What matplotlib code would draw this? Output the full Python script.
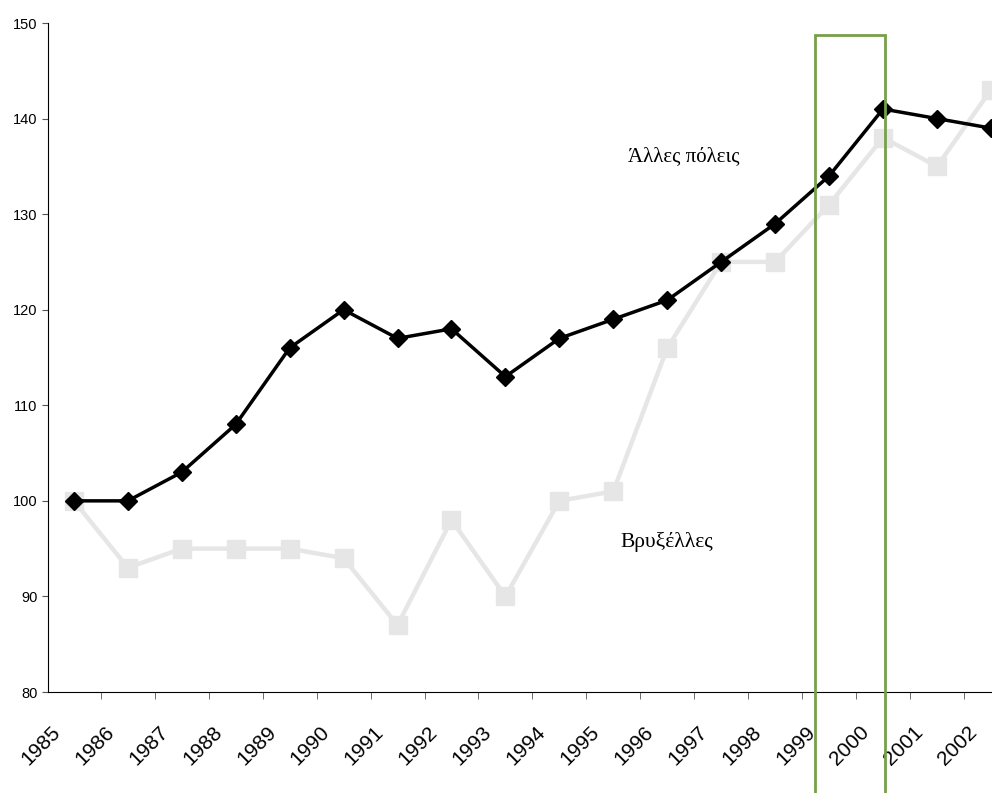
import numpy as np
import matplotlib.pyplot as plt
import matplotlib.transforms as mtransforms
from matplotlib.patches import Rectangle

years = [str(y) for y in range(1985, 2003)]
other_cities = [100, 100, 103, 108, 116, 120, 117, 118, 113, 117, 119, 121, 125, 129, 134, 141, 140, 139]
brussels = [100, 93, 95, 95, 95, 94, 87, 98, 90, 100, 101, 116, 125, 125, 131, 138, 135, 143]
label_other = "Άλλες πόλεις"
label_brussels = "Βρυξέλλες"

plt.rcParams["font.family"] = ["Liberation Sans", "DejaVu Sans"]

fig = plt.figure(figsize=(9.92, 7.93), dpi=100)
ax = fig.add_axes([48 / 992, 1 - 692 / 793, 1 - 48 / 992, (692 - 23) / 793])

x = np.arange(len(years))
ax.plot(x, brussels, color="#e6e6e6", lw=3.2, marker="s", ms=13.5, zorder=2, clip_on=False)
ax.plot(x, other_cities, color="black", lw=2.5, marker="D", ms=9.5, zorder=3, clip_on=False)

ax.set_xlim(-0.48, 17.02)
ax.set_ylim(80, 150)
ax.set_yticks(range(80, 151, 10))
ax.set_xticks(x)
ax.set_xticklabels(years, rotation=45, ha="right", va="top", fontsize=15)
ax.set_xticks(x[1:] - 0.5, minor=True)
ax.tick_params(axis="x", which="major", length=0, pad=22)
ax.tick_params(axis="x", which="minor", length=5, color="#555555")
ax.tick_params(axis="y", length=4, labelsize=10.5, color="#555555")
shift = mtransforms.ScaledTranslation(-10 / 100, 0, fig.dpi_scale_trans)
for lab in ax.get_xticklabels():
    lab.set_transform(lab.get_transform() + shift)
for s in ["top", "right"]:
    ax.spines[s].set_visible(False)

# highlight around 1999-2000
ax.add_patch(Rectangle((13.74, 66), 1.3, 148.7 - 66, fill=False, edgecolor="#77a04a",
                       lw=2, clip_on=False, zorder=4))

serif = ["Liberation Serif", "DejaVu Serif"]
ax.text(11.3, 136.0, label_other, family=serif, fontsize=15, ha="center", va="center")
ax.text(11.0, 95.7, label_brussels, family=serif, fontsize=15.5, ha="center", va="center")

fig.savefig("out.png", dpi=100)
